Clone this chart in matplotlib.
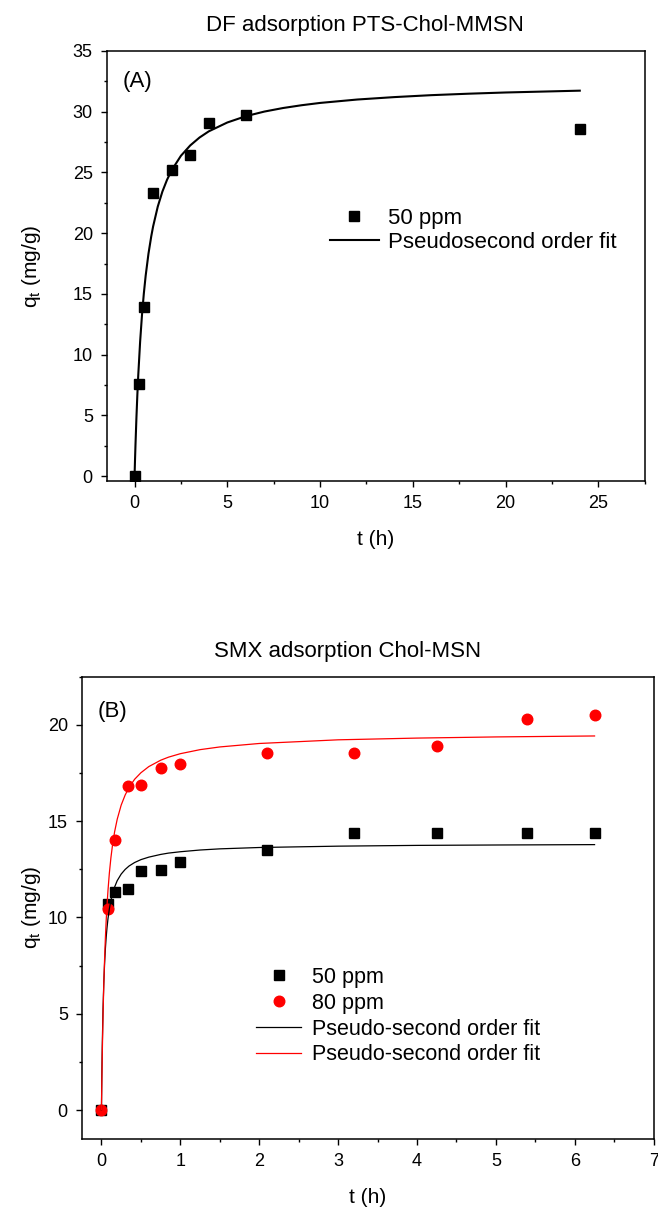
import matplotlib
matplotlib.use('Agg')
import matplotlib.pyplot as plt
from matplotlib.ticker import MultipleLocator

plt.rcParams['font.family'] = ['Liberation Sans', 'DejaVu Sans']

# panel A: DF adsorption on PTS-Chol-MMSN, 50 ppm
t_a = [0, 0.25, 0.5, 1, 2, 3, 4, 6, 24]
q_a = [0, 7.6, 13.9, 23.3, 25.2, 26.4, 29.1, 29.7, 28.6]
# pseudo-second order fit curve
fit_t_a = [0, 0.025, 0.05, 0.1, 0.15, 0.2, 0.3, 0.4, 0.5, 0.6,
           0.75, 0.9, 1, 1.25, 1.5, 1.75, 2, 2.5, 3, 3.5,
           4, 5, 6, 7, 8, 9, 10, 12, 14, 16, 18, 20, 24]
fit_q_a = [0, 1.34, 2.57, 4.77, 6.67, 8.32, 11.06, 13.25, 15.03, 16.51,
           18.31, 19.74, 20.55, 22.18, 23.42, 24.39, 25.18, 26.37, 27.22, 27.87,
           28.38, 29.11, 29.63, 30.01, 30.30, 30.53, 30.72, 31.00, 31.20, 31.36,
           31.48, 31.58, 31.73]

# panel B: SMX adsorption on Chol-MSN
t_b = [0, 0.083, 0.167, 0.333, 0.5, 0.75, 1, 2.1, 3.2, 4.25, 5.4, 6.25]
q_b50 = [0, 10.7, 11.3, 11.5, 12.4, 12.45, 12.9, 13.5, 14.4, 14.4, 14.4, 14.4]
q_b80 = [0, 10.45, 14.0, 16.8, 16.9, 17.75, 17.95, 18.55, 18.55, 18.9, 20.3, 20.5]
fit_t_b = [0, 0.005, 0.01, 0.02, 0.03, 0.04, 0.05, 0.06, 0.07, 0.083,
           0.1, 0.12, 0.14, 0.167, 0.2, 0.25, 0.3, 0.35, 0.42, 0.5,
           0.6, 0.75, 0.85, 1, 1.25, 1.5, 2, 3, 4, 5, 6.25]
fit_q_b50 = [0, 1.84, 3.25, 5.26, 6.63, 7.62, 8.38, 8.97, 9.44, 9.94,
             10.44, 10.89, 11.23, 11.58, 11.91, 12.25, 12.49, 12.67, 12.85, 13.0,
             13.13, 13.27, 13.34, 13.41, 13.50, 13.56, 13.63, 13.70, 13.74, 13.76, 13.78]
fit_q_b80 = [0, 1.52, 2.82, 4.93, 6.57, 7.88, 8.95, 9.84, 10.59, 11.41,
             12.29, 13.10, 13.75, 14.45, 15.10, 15.83, 16.35, 16.75, 17.17, 17.51,
             17.83, 18.16, 18.32, 18.50, 18.71, 18.85, 19.03, 19.22, 19.31, 19.37, 19.42]

fig = plt.figure(figsize=(6.58, 12.1), dpi=100)


def style(ax):
    for s in ax.spines.values():
        s.set_linewidth(1.1)
    ax.tick_params(which='both', direction='out', width=1.0, labelsize=13)
    ax.tick_params(which='major', length=4)
    ax.tick_params(which='minor', length=2.5)
    ax.tick_params(axis='x', which='major', pad=6)
    ax.tick_params(axis='y', which='major', pad=6)


# ---- panel A
ax1 = fig.add_axes([0.1622, 0.6025, 0.8176, 0.3554])
ax1.plot(t_a, q_a, 's', color='black', ms=6.8, label='50 ppm')
ax1.plot(fit_t_a, fit_q_a, '-', color='black', lw=1.5, label='Pseudosecond order fit')
ax1.set_xlim(-1.5, 27.5)
ax1.set_ylim(-0.4, 35)
ax1.xaxis.set_major_locator(MultipleLocator(5))
ax1.xaxis.set_minor_locator(MultipleLocator(2.5))
ax1.yaxis.set_major_locator(MultipleLocator(5))
ax1.yaxis.set_minor_locator(MultipleLocator(2.5))
style(ax1)
ax1.set_title('DF adsorption PTS-Chol-MMSN', fontsize=16, pad=14, x=0.48)
ax1.set_xlabel('t (h)', fontsize=15, labelpad=13)
ax1.set_ylabel('q$_\\mathregular{t}$ (mg/g)', fontsize=15)
ax1.yaxis.set_label_coords(-0.118, 0.5)
ax1.text(0.03, 0.93, '(A)', transform=ax1.transAxes, fontsize=16, va='center')
ax1.legend(loc='upper left', bbox_to_anchor=(0.5015, 0.828),
           bbox_transform=fig.transFigure, frameon=False, fontsize=16,
           borderpad=0, borderaxespad=0, handlelength=2.2, handletextpad=0.4,
           labelspacing=0.12)

# ---- panel B
ax2 = fig.add_axes([0.1242, 0.0587, 0.8693, 0.3821])
ax2.plot(t_b, q_b50, 's', color='black', ms=6.6, label='50 ppm')
ax2.plot(t_b, q_b80, 'o', color='#ff0000', ms=7.6, label='80 ppm')
ax2.plot(fit_t_b, fit_q_b50, '-', color='black', lw=0.9, label='Pseudo-second order fit')
ax2.plot(fit_t_b, fit_q_b80, '-', color='#ff0000', lw=0.9, label='Pseudo-second order fit')
ax2.set_xlim(-0.25, 7)
ax2.set_ylim(-1.5, 22.5)
ax2.xaxis.set_major_locator(MultipleLocator(1))
ax2.xaxis.set_minor_locator(MultipleLocator(0.5))
ax2.yaxis.set_major_locator(MultipleLocator(5))
ax2.yaxis.set_minor_locator(MultipleLocator(2.5))
style(ax2)
ax2.set_title('SMX adsorption Chol-MSN', fontsize=16, pad=14, x=0.465)
ax2.set_xlabel('t (h)', fontsize=15, labelpad=13)
ax2.set_ylabel('q$_\\mathregular{t}$ (mg/g)', fontsize=15)
ax2.yaxis.set_label_coords(-0.068, 0.5)
ax2.text(0.027, 0.925, '(B)', transform=ax2.transAxes, fontsize=16, va='center')
ax2.legend(loc='upper left', bbox_to_anchor=(0.389, 0.2008),
           bbox_transform=fig.transFigure, frameon=False, fontsize=15.5,
           borderpad=0, borderaxespad=0, handlelength=2.1, handletextpad=0.5,
           labelspacing=0.22)

fig.savefig('out.png', dpi=100)
